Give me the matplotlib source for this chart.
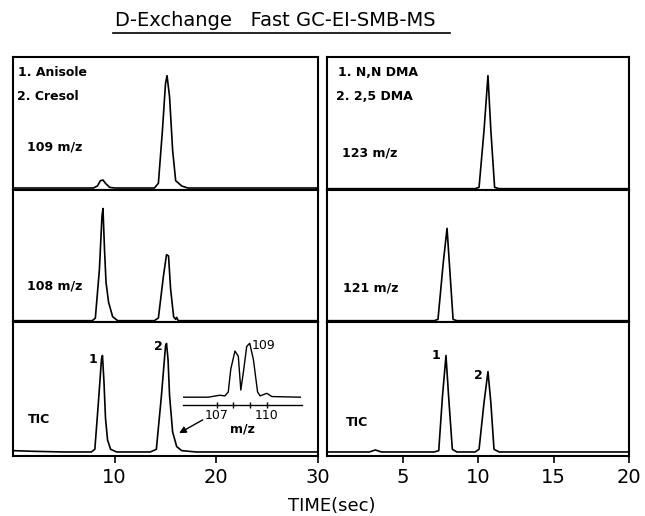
"""
D-Exchange Fast GC-EI-SMB-MS chromatograms (Anisole/Cresol and DMA)
"""

import matplotlib.pyplot as plt
from matplotlib.lines import Line2D

W, H = 645, 516

# --- left column: Anisole / Cresol, time 0-30 s ---
l109_t = [0, 7.9, 8.3, 8.6, 8.85, 9.1, 9.5, 10.0, 13.9, 14.3, 14.7, 15.0, 15.15, 15.4, 15.7, 16.0, 16.6, 17.2, 30]
l109_y = [0.015, 0.015, 0.03, 0.07, 0.075, 0.05, 0.02, 0.015, 0.015, 0.05, 0.45, 0.80, 0.86, 0.70, 0.30, 0.07, 0.03, 0.015, 0.015]

l108_t = [0, 7.8, 8.1, 8.5, 8.75, 8.85, 9.0, 9.15, 9.4, 9.8, 10.3, 13.9, 14.3, 14.8, 15.1, 15.3, 15.5, 15.8, 16.0, 16.1, 16.25, 16.6, 30]
l108_y = [0.01, 0.01, 0.03, 0.40, 0.80, 0.86, 0.55, 0.30, 0.15, 0.04, 0.01, 0.01, 0.03, 0.35, 0.51, 0.50, 0.25, 0.04, 0.02, 0.035, 0.01, 0.01, 0.01]

ltic_t = [0, 2.0, 5.0, 7.7, 8.05, 8.4, 8.7, 8.8, 8.95, 9.1, 9.3, 9.6, 10.2, 13.5, 14.1, 14.6, 15.0, 15.1, 15.25, 15.4, 15.7, 16.1, 16.6, 18.0, 30]
ltic_y = [0.04, 0.035, 0.03, 0.03, 0.05, 0.40, 0.72, 0.75, 0.55, 0.28, 0.12, 0.05, 0.03, 0.03, 0.05, 0.45, 0.82, 0.84, 0.72, 0.45, 0.18, 0.07, 0.04, 0.03, 0.03]

# inset mass spectrum (m/z vs relative intensity)
ms_mz = [105.0, 106.5, 107.2, 107.5, 107.7, 107.85, 108.1, 108.3, 108.45, 108.6, 108.8, 108.98, 109.2, 109.45, 109.6, 110.0, 110.3, 112.0]
ms_y = [0.12, 0.12, 0.15, 0.14, 0.20, 0.55, 0.83, 0.75, 0.23, 0.50, 0.90, 0.95, 0.70, 0.20, 0.14, 0.18, 0.13, 0.12]

# --- right column: N,N DMA / 2,5 DMA, time 0-20 s ---
r123_t = [0, 9.8, 10.07, 10.4, 10.66, 10.85, 11.1, 11.4, 20]
r123_y = [0.01, 0.01, 0.02, 0.45, 0.86, 0.45, 0.02, 0.01, 0.01]

r121_t = [0, 7.1, 7.35, 7.7, 7.95, 8.1, 8.35, 8.6, 20]
r121_y = [0.01, 0.01, 0.02, 0.45, 0.71, 0.45, 0.02, 0.01, 0.01]

rtic_t = [0, 2.8, 3.2, 3.6, 7.1, 7.4, 7.65, 7.88, 8.05, 8.3, 8.6, 9.8, 10.07, 10.4, 10.66, 10.85, 11.06, 11.4, 20]
rtic_y = [0.03, 0.03, 0.045, 0.03, 0.03, 0.04, 0.45, 0.75, 0.45, 0.05, 0.03, 0.03, 0.05, 0.40, 0.63, 0.40, 0.05, 0.03, 0.03]


def px(x0, y0, x1, y1):
    return [x0 / W, 1 - y1 / H, (x1 - x0) / W, (y1 - y0) / H]


def panel(rect, t, y, xmax):
    ax = fig.add_axes(px(*rect))
    ax.plot(t, y, color='black', lw=1.2)
    ax.set_xlim(0, xmax)
    ax.set_ylim(0, 1)
    ax.set_yticks([])
    ax.set_xticks([])
    for s in ax.spines.values():
        s.set_linewidth(1.5)
    return ax


fig = plt.figure(figsize=(W / 100, H / 100), dpi=100)
lab = dict(fontsize=9, fontweight='bold', va='center', ha='left')

rows = [(57, 190), (190, 322), (322, 456)]

# left column
a1 = panel((13, rows[0][0], 318, rows[0][1]), l109_t, l109_y, 30)
a2 = panel((13, rows[1][0], 318, rows[1][1]), l108_t, l108_y, 30)
a3 = panel((13, rows[2][0], 318, rows[2][1]), ltic_t, ltic_y, 30)
a1.text(0.017, 0.88, '1. Anisole', transform=a1.transAxes, **lab)
a1.text(0.013, 0.70, '2. Cresol', transform=a1.transAxes, **lab)
a1.text(0.045, 0.32, '109 m/z', transform=a1.transAxes, **lab)
a2.text(0.045, 0.27, '108 m/z', transform=a2.transAxes, **lab)
a3.text(0.05, 0.27, 'TIC', transform=a3.transAxes, **lab)
a3.text(7.9, 0.72, '1', fontsize=9, fontweight='bold', ha='center', va='center')
a3.text(14.3, 0.82, '2', fontsize=9, fontweight='bold', ha='center', va='center')
a3.annotate('', xy=(16.1, 0.16), xytext=(18.9, 0.28),
            arrowprops=dict(arrowstyle='-|>', color='black', lw=1.0, mutation_scale=10))
a3.set_xticks([10, 20, 30])
a3.tick_params(axis='x', direction='out', length=5, width=1.2, pad=3.5, labelsize=14)

# inset spectrum
ins = fig.add_axes(px(183, 340, 302, 405))
ins.plot(ms_mz, ms_y, color='black', lw=1.0)
ins.set_xlim(105, 112.1)
ins.set_ylim(0, 1)
ins.patch.set_alpha(0)
for s in ['top', 'left', 'right']:
    ins.spines[s].set_visible(False)
ins.spines['bottom'].set_linewidth(1.0)
ins.set_yticks([])
ins.set_xticks([107, 108, 109, 110])
ins.set_xticklabels(['107', '', '', '110'])
ins.tick_params(axis='x', direction='inout', length=4, width=1.0, pad=1, labelsize=9)
ins.set_xlabel('m/z', fontsize=9, fontweight='bold', labelpad=0)
ins.text(109.1, 0.92, '109', fontsize=9, ha='left', va='center')

# right column
b1 = panel((327, rows[0][0], 629, rows[0][1]), r123_t, r123_y, 20)
b2 = panel((327, rows[1][0], 629, rows[1][1]), r121_t, r121_y, 20)
b3 = panel((327, rows[2][0], 629, rows[2][1]), rtic_t, rtic_y, 20)
b1.text(0.036, 0.88, '1. N,N DMA', transform=b1.transAxes, **lab)
b1.text(0.030, 0.70, '2. 2,5 DMA', transform=b1.transAxes, **lab)
b1.text(0.050, 0.28, '123 m/z', transform=b1.transAxes, **lab)
b2.text(0.053, 0.26, '121 m/z', transform=b2.transAxes, **lab)
b3.text(0.063, 0.25, 'TIC', transform=b3.transAxes, **lab)
b3.text(7.2, 0.75, '1', fontsize=9, fontweight='bold', ha='center', va='center')
b3.text(10.0, 0.60, '2', fontsize=9, fontweight='bold', ha='center', va='center')
b3.set_xticks([5, 10, 15, 20])
b3.tick_params(axis='x', direction='out', length=5, width=1.2, pad=3.5, labelsize=14)

# title with underline and common x label
fig.text(275 / W, 1 - 21 / H, 'D-Exchange   Fast GC-EI-SMB-MS', fontsize=14,
         ha='center', va='center')
fig.add_artist(Line2D([113 / W, 450 / W], [1 - 33 / H, 1 - 33 / H], color='black', lw=1.2))
fig.text(332 / W, 1 - 506 / H, 'TIME(sec)', fontsize=13, ha='center', va='center')

plt.savefig('out.png', dpi=100)
